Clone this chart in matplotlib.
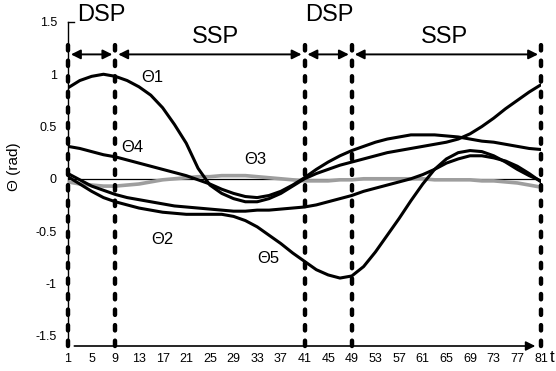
import numpy as np
import matplotlib
matplotlib.use("Agg")
import matplotlib.pyplot as plt

plt.rcParams['font.family'] = ['Liberation Sans', 'DejaVu Sans']

# values, every 2 steps
t = list(range(1, 82, 2))
theta1 = [0.87, 0.94, 0.98, 1.00, 0.98, 0.94, 0.88, 0.80, 0.68, 0.52, 0.34,
          0.10, -0.06, -0.14, -0.19, -0.22, -0.22, -0.19, -0.14, -0.07, 0.00,
          0.05, 0.09, 0.13, 0.16, 0.19, 0.22, 0.25, 0.27, 0.29, 0.31,
          0.33, 0.35, 0.38, 0.43, 0.50, 0.58, 0.67, 0.75, 0.83, 0.90]
theta2 = [0.05, -0.01, -0.07, -0.11, -0.15, -0.18, -0.20, -0.22, -0.24, -0.26, -0.27,
          -0.28, -0.29, -0.30, -0.31, -0.31, -0.30, -0.30, -0.29, -0.28, -0.27,
          -0.25, -0.22, -0.19, -0.16, -0.12, -0.09, -0.06, -0.03, 0.00, 0.04,
          0.09, 0.15, 0.19, 0.22, 0.22, 0.20, 0.17, 0.12, 0.05, -0.03]
theta3 = [-0.03, -0.05, -0.06, -0.07, -0.07, -0.06, -0.05, -0.03, -0.01, 0.00, 0.01,
          0.02, 0.02, 0.03, 0.03, 0.03, 0.02, 0.01, 0.00, -0.01, -0.02,
          -0.02, -0.02, -0.01, -0.01, 0.00, 0.00, 0.00, 0.00, 0.00, 0.00,
          -0.01, -0.01, -0.01, -0.01, -0.02, -0.02, -0.03, -0.04, -0.06, -0.08]
theta4 = [0.31, 0.29, 0.26, 0.23, 0.21, 0.18, 0.15, 0.12, 0.09, 0.06, 0.03,
          -0.01, -0.05, -0.10, -0.14, -0.17, -0.18, -0.16, -0.12, -0.06, 0.01,
          0.09, 0.16, 0.22, 0.27, 0.31, 0.35, 0.38, 0.40, 0.42, 0.42,
          0.42, 0.41, 0.40, 0.38, 0.36, 0.35, 0.33, 0.31, 0.29, 0.28]
theta5 = [0.02, -0.05, -0.12, -0.18, -0.22, -0.25, -0.28, -0.30, -0.32, -0.33, -0.34,
          -0.34, -0.34, -0.34, -0.36, -0.40, -0.46, -0.54, -0.62, -0.71, -0.79,
          -0.87, -0.92, -0.95, -0.93, -0.84, -0.70, -0.54, -0.38, -0.21, -0.05,
          0.09, 0.19, 0.25, 0.27, 0.26, 0.22, 0.16, 0.09, 0.03, -0.02]

xticks = list(range(1, 82, 4))
phase_bounds = [1, 9, 41, 49, 81]
phase_names = ["DSP", "SSP", "DSP", "SSP"]
yticks = [-1.5, -1, -0.5, 0, 0.5, 1, 1.5]
ytick_labels = ["-1.5", "-1", "-0.5", "0", "0.5", "1", "1.5"]

fig = plt.figure(figsize=(5.56, 3.71), dpi=100)
ax = fig.add_axes([68/556, 25/371, 473/556, 324/371])
ax.set_xlim(1, 81)
ax.set_ylim(-1.6, 1.5)
for sp in ax.spines.values():
    sp.set_visible(False)

ax.set_xticks(xticks)
ax.set_xticklabels([str(v) for v in xticks], fontsize=9)
ax.set_yticks(yticks)
ax.set_yticklabels(ytick_labels, fontsize=9)
ax.tick_params(length=0, pad=5)
ax.tick_params(axis="y", pad=8)

# axes lines
ax.plot([1, 1], [-1.6, 1.5], color="k", lw=1, clip_on=False)
ax.plot([1, 2], [1.5, 1.5], color="k", lw=1, clip_on=False)
ax.annotate("", xy=(80.5, -1.6), xytext=(1.6, -1.6),
            arrowprops=dict(arrowstyle="-|>", color="k", lw=1.2, mutation_scale=14),
            annotation_clip=False)
fig.text(550/556, 14/371, "t", fontsize=12, ha="left", va="center")
fig.text(14/556, 0.55, "Θ (rad)", rotation=90, fontsize=11, ha="center", va="center")

# zero line and curves
ax.plot([1, 80], [0, 0], color="k", lw=0.9)
ax.plot(t, theta3, color="0.62", lw=2.6, solid_capstyle="round")
for y in (theta1, theta2, theta4, theta5):
    ax.plot(t, y, color="k", lw=2.2, solid_capstyle="round", solid_joinstyle="round")

lab_kw = dict(fontsize=12, ha="center", va="center")
ax.text(15.2, 0.97, "Θ1", **lab_kw)
ax.text(17.0, -0.58, "Θ2", **lab_kw)
ax.text(32.6, 0.18, "Θ3", **lab_kw)
ax.text(11.8, 0.30, "Θ4", **lab_kw)
ax.text(34.8, -0.76, "Θ5", **lab_kw)

# phase boundaries
for b in phase_bounds:
    ax.plot([b, b], [-1.6, 1.32], color="k", lw=3.2, linestyle=(0, (1.2, 2.3)),
            dash_capstyle="round", clip_on=False)

arrow_y = 1.19
name_pos = [(6.7, 1.57), (25.9, 1.36), (45.2, 1.57), (64.6, 1.36)]
for i, name in enumerate(phase_names):
    a, b = phase_bounds[i], phase_bounds[i + 1]
    ax.annotate("", xy=(b - 0.5, arrow_y), xytext=(a + 0.5, arrow_y),
                arrowprops=dict(arrowstyle="<|-|>", color="k", lw=1.4,
                                mutation_scale=14, shrinkA=0, shrinkB=0),
                annotation_clip=False)
    ax.text(name_pos[i][0], name_pos[i][1], name, fontsize=17, ha="center",
            va="center", clip_on=False)

fig.savefig("out.png", dpi=100)
